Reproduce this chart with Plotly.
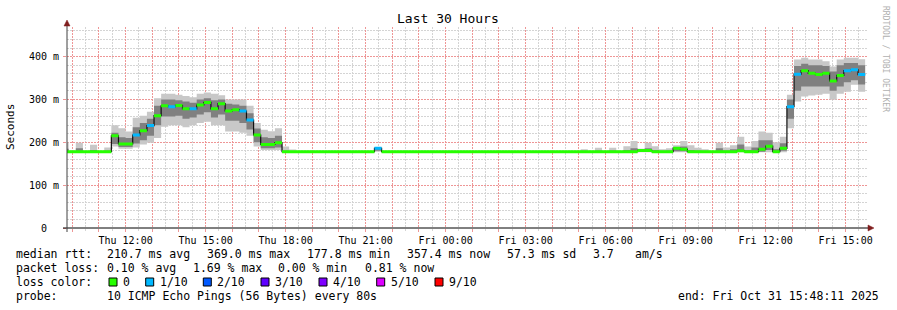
import pandas as pd
import plotly.graph_objects as go

FONT = "DejaVu Sans Mono"

# ---------------- data (16-minute consolidated bins, first bin starts 09:36 Thu) ----------------
bin_start = "2025-10-30 09:36:00"
step_minutes = 16
view_start = "2025-10-30 09:48:11"
view_end = "2025-10-31 15:48:11"

median_ms = (
    [178, 178, 178, 178, 178, 178, 178]
    + [215, 196, 196, 217, 227, 239, 262, 285, 283, 286, 278, 278, 287, 293, 278, 290,
       273, 276, 273, 252, 217, 195, 195, 199]
    + [178] * 13
    + [186]
    + [178] * 36
    + [181, 181]
    + [178, 178, 178]
    + [186, 184]
    + [178] * 7
    + [180]
    + [178, 178]
    + [184, 191, 178, 186]
    + [283, 359, 367, 361, 358, 361, 343, 356, 367, 369, 358]
)

loss_tenths = [0] * len(median_ms)
for _b in [9, 11, 14, 17, 24, 25, 43, 101, 102, 109, 110, 111]:
    loss_tenths[_b + 1] = 1

ping_max = (
    [200, 180, 199, 180, 194, 180, 188]
    + [240, 233, 225, 257, 262, 271, 303, 313, 313, 311, 308, 305, 313, 316, 313, 310,
       300, 300, 300, 285, 245, 229, 226, 233]
    + [190, 183]
    + [180] * 11
    + [189]
    + [180] * 28
    + [184, 180, 187, 180, 187, 180, 191, 203]
    + [185, 199, 191, 184, 186, 193, 203, 193, 187, 184, 180, 199, 188, 193, 213, 190,
       203, 225, 222, 200, 213]
    + [311, 393, 397, 393, 393, 389, 377, 393, 397, 397, 394]
)

ping_hi = (
    [185, 179, 186, 179, 182, 179, 181]
    + [222, 212, 210, 235, 245, 255, 285, 300, 300, 298, 295, 292, 300, 303, 298, 300,
       290, 288, 285, 268, 232, 212, 210, 215]
    + [181, 179]
    + [179] * 11
    + [188]
    + [179] * 28
    + [180, 179, 181, 179, 181, 179, 182, 186]
    + [183, 186, 182, 180, 181, 189, 190, 182, 181, 180, 179, 186, 181, 184, 195, 182,
       188, 205, 205, 184, 198]
    + [300, 378, 383, 380, 380, 378, 365, 380, 385, 385, 380]
)

ping_lo = (
    [177.5] * 7
    + [196, 189, 189, 197, 205, 215, 240, 260, 260, 262, 255, 258, 265, 270, 258, 265,
       250, 250, 245, 230, 200, 186, 186, 188]
    + [177.5] * 13
    + [180]
    + [177.5] * 36
    + [177.5] * 5 + [179, 179] + [177.5] * 10 + [178, 182, 177.5, 180]
    + [255, 320, 330, 330, 330, 330, 320, 330, 340, 345, 335]
)

ping_min = (
    [177] * 7
    + [190, 185, 185, 188, 195, 199, 210, 236, 240, 240, 235, 240, 245, 248, 240, 240,
       225, 225, 222, 215, 190, 182, 182, 182]
    + [177] * 13
    + [178]
    + [177] * 57
    + [233, 295, 307, 309, 311, 313, 299, 313, 318, 334, 318]
)

loss_colors = {0: "#26ff00", 1: "#00b8ff", 2: "#0059ff", 3: "#5e00ff",
               4: "#7e00ff", 5: "#dd00ff", 9: "#ff0000"}
loss_labels = ["0", "1/10", "2/10", "3/10", "4/10", "5/10", "9/10"]
loss_levels = [0, 1, 2, 3, 4, 5, 9]

y_tick_vals = [0, 100, 200, 300, 400]
y_tick_text = ["0\u00a0\u00a0", "100 m", "200 m", "300 m", "400 m"]

x_label_times = ["2025-10-30 12:00", "2025-10-30 15:00", "2025-10-30 18:00", "2025-10-30 21:00",
                 "2025-10-31 00:00", "2025-10-31 03:00", "2025-10-31 06:00", "2025-10-31 09:00",
                 "2025-10-31 12:00", "2025-10-31 15:00"]
x_label_text = ["Thu 12:00", "Thu 15:00", "Thu 18:00", "Thu 21:00", "Fri 00:00",
                "Fri 03:00", "Fri 06:00", "Fri 09:00", "Fri 12:00", "Fri 15:00"]

stats_rtt = [("median rtt:", 16), ("210.7 ms avg", 107.3), ("369.0 ms max", 207.3),
             ("177.8 ms min", 306.7), ("357.4 ms now", 407.3), ("57.3 ms sd", 507.3),
             ("3.7", 593.3), ("am/s", 635)]
stats_loss = [("packet loss:", 16), ("0.10 % avg", 107.3), ("1.69 % max", 192.7),
              ("0.00 % min", 278.3), ("0.81 % now", 365)]
probe_text = "10 ICMP Echo Pings (56 Bytes) every 80s"
end_text = "end: Fri Oct 31 15:48:11 2025"

# ---------------- geometry ----------------
W, H = 897, 310
L, R, T, B = 67, 30, 27, 82
PW, PH = W - L - R, H - T - B
Y0 = H - B  # pixel row of the x axis


def px(x):
    return (x - L) / PW


def py(y):
    return (Y0 - y) / PH


n = len(median_ms)
edges = pd.date_range(bin_start, periods=n + 1, freq=f"{step_minutes}min")


def stepped(v):
    return list(v) + [v[-1]]


fig = go.Figure()

# smoke: outer band
fig.add_trace(go.Scatter(x=edges, y=stepped(ping_min), mode="lines", line=dict(width=0, shape="hv"),
                         hoverinfo="skip", showlegend=False))
fig.add_trace(go.Scatter(x=edges, y=stepped(ping_max), mode="lines", line=dict(width=0, shape="hv"),
                         fill="tonexty", fillcolor="#c8c8c8", hoverinfo="skip", showlegend=False))
# smoke: inner band
fig.add_trace(go.Scatter(x=edges, y=stepped(ping_lo), mode="lines", line=dict(width=0, shape="hv"),
                         hoverinfo="skip", showlegend=False))
fig.add_trace(go.Scatter(x=edges, y=stepped(ping_hi), mode="lines", line=dict(width=0, shape="hv"),
                         fill="tonexty", fillcolor="#808080", hoverinfo="skip", showlegend=False))
# median line
fig.add_trace(go.Scatter(x=edges, y=stepped(median_ms), mode="lines",
                         line=dict(width=1.2, shape="hv", color="#101010"),
                         hoverinfo="skip", showlegend=False))

# loss-coloured median band
half = 3.5
for lvl in loss_levels:
    xs, ys = [], []
    for i in range(n):
        if loss_tenths[i] == lvl:
            m = median_ms[i]
            xs += [edges[i], edges[i + 1], edges[i + 1], edges[i], edges[i], None]
            ys += [m - half, m - half, m + half, m + half, m - half, None]
    if xs:
        fig.add_trace(go.Scatter(x=xs, y=ys, mode="lines", line=dict(width=0), fill="toself",
                                 fillcolor=loss_colors[lvl], hoverinfo="skip", showlegend=False))

hour_ticks = pd.date_range("2025-10-30 10:00", "2025-10-31 15:00", freq="1h")
half_hour_ticks = hour_ticks - pd.Timedelta(minutes=30)
half_hour_ticks = list(half_hour_ticks) + [hour_ticks[-1] + pd.Timedelta(minutes=30)]
label_map = dict(zip(pd.to_datetime(x_label_times), x_label_text))
hour_text = [label_map.get(t, "") for t in hour_ticks]
y_minor_vals = [v for v in range(20, 470, 20) if v % 100 != 0]

RED_GRID = "rgb(238,150,150)"
GRAY_GRID = "rgb(212,212,212)"
DASH = "2px,1px"

fig.update_layout(
    width=W, height=H,
    margin=dict(l=L, r=R, t=T, b=B, pad=0),
    paper_bgcolor="white", plot_bgcolor="white",
    font=dict(family=FONT, color="black", size=10),
    showlegend=False,
    xaxis=dict(
        type="date", range=[view_start, view_end],
        tickmode="array", tickvals=list(hour_ticks), ticktext=hour_text,
        showgrid=True, gridcolor=RED_GRID, griddash=DASH, gridwidth=1,
        ticks="outside", ticklen=3, tickcolor=RED_GRID, tickangle=0,
        tickfont=dict(family=FONT, size=10, color="black"),
        minor=dict(tickmode="array", tickvals=half_hour_ticks, showgrid=True,
                   gridcolor=GRAY_GRID, griddash=DASH, ticks="outside", ticklen=2,
                   tickcolor=GRAY_GRID),
        showline=False, zeroline=False, fixedrange=True,
    ),
    yaxis=dict(
        range=[0, 469],
        tickmode="array", tickvals=y_tick_vals, ticktext=y_tick_text,
        showgrid=True, gridcolor=RED_GRID, griddash=DASH, gridwidth=1,
        ticks="outside", ticklen=3, tickcolor=RED_GRID,
        tickfont=dict(family=FONT, size=10, color="black"),
        ticklabelstandoff=2,
        minor=dict(tickmode="array", tickvals=y_minor_vals, showgrid=True,
                   gridcolor=GRAY_GRID, griddash=DASH),
        showline=False, zeroline=False, fixedrange=True,
    ),
)

shapes = []
# axes with arrows
shapes.append(dict(type="line", xref="paper", yref="paper", x0=px(63), x1=px(869), y0=0, y1=0,
                   line=dict(color="black", width=1), layer="above"))
shapes.append(dict(type="line", xref="paper", yref="paper", x0=0, x1=0, y0=py(232), y1=py(23),
                   line=dict(color="#404040", width=1), layer="above"))
shapes.append(dict(type="path", xref="paper", yref="paper",
                   path=f"M {px(868)} {py(225)} L {px(874)} {py(228)} L {px(868)} {py(231)} Z",
                   fillcolor="#801f1f", line=dict(color="#801f1f", width=0.5), layer="above"))
shapes.append(dict(type="path", xref="paper", yref="paper",
                   path=f"M {px(64)} {py(26)} L {px(67)} {py(20)} L {px(70)} {py(26)} Z",
                   fillcolor="#801f1f", line=dict(color="#801f1f", width=0.5), layer="above"))

annotations = []


def text(s, x, y, size=11.5, anchor="left", color="black", angle=0):
    annotations.append(dict(text=s, x=px(x), y=py(y), xref="paper", yref="paper",
                            xanchor=anchor, yanchor="middle", showarrow=False,
                            textangle=angle, borderpad=0, borderwidth=0,
                            font=dict(family=FONT, size=size, color=color)))


text("Last 30 Hours", 447.5, 19, size=13, anchor="center")
text("Seconds", 11, 127, size=11, anchor="center", angle=-90)
text("RRDTOOL / TOBI OETIKER", 886, 59, size=8, anchor="center", color="#b0b0b0", angle=90)

for s, x in stats_rtt:
    text(s, x, 254.3)
for s, x in stats_loss:
    text(s, x, 268.3)
text("loss color:", 16, 282.3)
sq_x = [109, 145.7, 203.3, 261, 319, 376.7, 435]
for lvl, lab, sx in zip(loss_levels, loss_labels, sq_x):
    shapes.append(dict(type="rect", xref="paper", yref="paper",
                       x0=px(sx), x1=px(sx + 8), y0=py(278), y1=py(286),
                       fillcolor=loss_colors[lvl], line=dict(color="black", width=1)))
    text(lab, sx + 14, 282.3)
text("probe:", 16, 296)
text(probe_text, 107.3, 296)
text(end_text, 678.3, 296)

fig.update_layout(shapes=shapes, annotations=annotations)
fig.write_html("out.html")
